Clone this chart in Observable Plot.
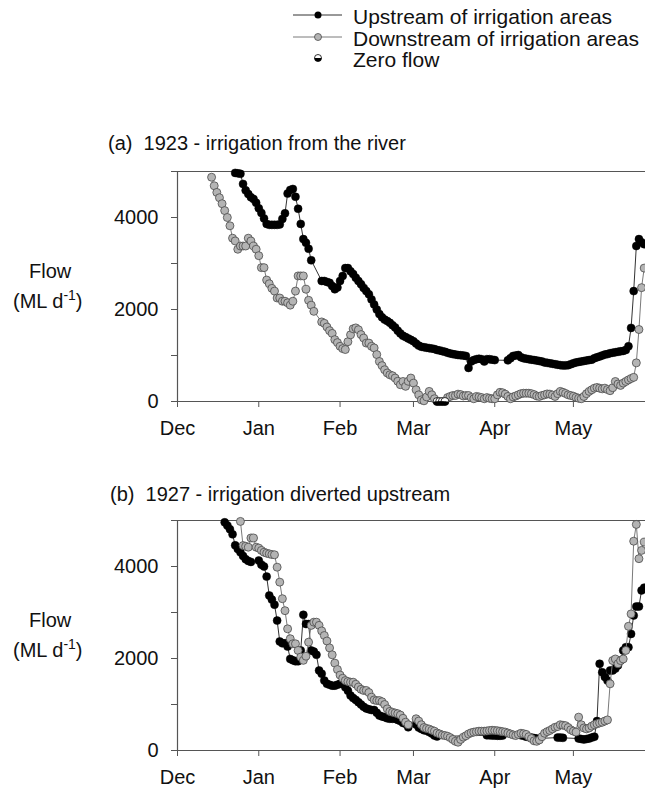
<!DOCTYPE html>
<html><head><meta charset="utf-8">
<script src="https://cdn.jsdelivr.net/npm/d3@7"></script>
<script src="https://cdn.jsdelivr.net/npm/@observablehq/plot@0.6"></script>
<style>
body{margin:0;background:#fff;font-family:"Liberation Sans",Arial,sans-serif;color:#111;}
#root{position:relative;width:645px;height:790px;overflow:hidden;background:#fff;}
.abs{position:absolute;white-space:pre;}
.t20{font-size:20px;line-height:24px;}
sup{font-size:14px;line-height:0;vertical-align:8px;}
</style></head><body><div id="root"></div>
<script>
// ---------- data ----------
const monthLabels = ["Dec","Jan","Feb","Mar","Apr","May"];
const yTicks = [0,1000,2000,3000,4000,5000];
const yTickLabels = ["0","","2000","","4000",""];
const legendLabels = ["Upstream of irrigation areas","Downstream of irrigation areas","Zero flow"];
const panelTitles = ["(a)  1923 - irrigation from the river","(b)  1927 - irrigation diverted upstream"];

// (a) 1923 — daily flow (ML/d), null = no record
const upA_start = "1922-12-23";
const upA = [4970,4960,4950,4730,4590,4510,4440,4400,4320,4200,
 4100,3980,3860,3840,3840,3840,3840,3850,3970,4090,
 4520,4600,4620,4450,4190,3860,3530,3450,3320,3070,
 null,null,null,2620,2620,2600,2580,2510,2440,2480,
 2620,2730,2900,2900,2830,2770,2690,2620,2550,2470,
 2400,2330,2220,2110,2000,1900,1830,1780,1750,1710,
 1660,1610,1540,1480,1430,1400,1370,1340,1310,1260,
 1215,1190,1180,1170,1160,1150,1140,1120,1110,1095,
 1080,1060,1045,1030,1020,1010,1005,1000,990,730,
 870,900,920,930,920,870,920,920,910,900,
 null,null,null,null,895,940,990,1000,1010,960,
 940,930,920,910,900,890,880,870,850,840,
 830,820,810,800,790,785,785,790,810,830,
 850,860,870,880,890,900,910,940,960,980,
 1000,1020,1030,1050,1060,1070,1080,1090,1100,1120,
 1200,1600,2400,3380,3530,3460,3420];
const downA_start = "1922-12-14";
const downA = [4875,4690,4545,4430,4300,4150,4000,3820,3550,3490,
 3310,3380,3380,3380,3550,3490,3380,3310,3170,2910,
 2910,2640,2560,2460,2400,2250,2250,2180,2180,2145,
 2095,2180,2400,2730,2730,2730,2440,2200,2095,1960,
 null,null,1730,1700,1620,1540,1480,1345,1280,1200,
 1150,1130,1300,1450,1580,1600,1560,1455,1380,1270,
 1270,1200,1165,1020,870,780,690,620,580,560,
 510,440,365,435,330,440,510,400,255,145,
 35,15,100,220,145,60,0,0,0,0,
 85,110,130,130,160,150,120,130,130,85,
 60,110,100,85,60,85,70,60,60,145,
 200,190,160,110,60,100,120,145,170,180,
 180,180,170,150,120,110,130,145,165,160,
 140,110,170,220,200,175,145,130,115,90,
 70,60,110,170,220,255,290,305,290,275,
 290,260,235,300,435,380,350,400,435,470,
 500,525,840,1565,2475,2900];

// (b) 1927
const upB_start = "1926-12-19";
const upB = [4960,4890,4810,4700,4460,4380,4310,4230,4160,4120,
 4100,null,null,4130,4040,4000,3780,3370,3280,3170,
 2825,2370,2330,2330,2260,1990,1960,1940,1940,2175,
 2950,2750,2750,2175,2150,2080,1740,1670,1520,1450,
 1430,1410,1410,1430,1450,1450,1375,1300,1195,1140,
 1100,1050,1000,950,915,895,880,880,820,760,
 740,725,700,690,690,690,665,640,600,580,
 505,null,null,565,500,470,440,430,400,370,
 325,305,null,null,null,null,null,null,null,null,
 null,null,null,null,null,null,null,null,null,null,
 330,330,325,325,320,320,325,null,null,null,
 null,null,null,330,320,300,290,280,270,260,
 null,null,null,null,null,null,null,280,280,275,
 null,null,null,null,null,260,250,240,250,260,
 280,300,640,1885,1700,1600,1520,1740,1740,1780,
 1850,1955,2175,2245,2245,2535,2935,3130,3130,3480,3540];
const downB_start = "1926-12-25";
const downB = [4980,4455,4440,4420,4620,4620,4420,4400,4350,4310,
 4290,4275,4260,4255,3985,3660,3300,3040,2645,2430,
 2320,2320,2175,2030,1960,2050,2355,2720,2790,2790,
 2720,2600,2500,2380,2230,2080,1900,1760,1640,1570,
 1520,1500,1485,1485,1440,1380,1330,1305,1305,1260,
 1160,1100,1085,1085,1060,1000,905,850,830,815,
 800,770,700,615,560,null,null,690,640,560,
 500,480,465,440,420,380,360,335,325,310,
 280,240,200,180,240,290,320,360,385,400,
 410,420,420,420,425,435,440,435,430,420,
 410,400,380,360,340,325,350,375,365,350,
 300,260,210,200,230,300,375,410,435,470,
 505,520,560,550,540,500,450,420,400,725,
 560,490,470,490,530,560,580,600,615,640,
 665,1450,1955,1990,1885,1955,1990,2175,2700,2970,
 4550,4915,4170,4350,4530];

// ---------- styles ----------
const FONT = "Liberation Sans, Arial, Helvetica, sans-serif";
const AX = "#555";
const R = 4;
const upLine = "#333", downLine = "#7a7a7a", downFill = "#b4b4b4", downStroke = "#4a4a4a";
const halfLower = {draw(ctx, size){const r=Math.sqrt(size/Math.PI); ctx.moveTo(r,0); ctx.arc(0,0,r,0,Math.PI); ctx.closePath();}};

const root = document.getElementById("root");
function place(el, left, top){ el.style.position="absolute"; el.style.left=left+"px"; el.style.top=top+"px"; root.appendChild(el); return el; }

// ---------- legend ----------
const lg = d3.create("svg").attr("width",645).attr("height",80).attr("font-family",FONT);
const ly = [15,37,58];
lg.append("line").attr("x1",293).attr("x2",342).attr("y1",ly[0]).attr("y2",ly[0]).attr("stroke",upLine);
lg.append("circle").attr("cx",318).attr("cy",ly[0]).attr("r",3.5).attr("fill","#000");
lg.append("line").attr("x1",293).attr("x2",342).attr("y1",ly[1]).attr("y2",ly[1]).attr("stroke",downLine);
lg.append("circle").attr("cx",318).attr("cy",ly[1]).attr("r",3.5).attr("fill",downFill).attr("stroke",downStroke).attr("stroke-width",0.8);
lg.append("circle").attr("cx",318).attr("cy",ly[2]).attr("r",3.5).attr("fill","#fff").attr("stroke","#000").attr("stroke-width",0.8);
lg.append("path").attr("d","M321.5,"+ly[2]+" A3.5,3.5 0 0 1 314.5,"+ly[2]+" Z").attr("fill","#000");
legendLabels.forEach((t,i)=>lg.append("text").attr("x",353).attr("y",ly[i]+2).attr("dy","0.35em").attr("font-size",21).attr("fill","#111").text(t));
place(lg.node(),0,0);

// ---------- panels ----------
function rows(start, vals){ const s=new Date(start+"T00:00:00Z"); return vals.map((v,i)=>({date:d3.utcDay.offset(s,i), v})); }

function panel(y0, upStart, up, downStart, down){
  const x0 = new Date(Date.UTC(y0,11,1));
  const x1 = new Date(Date.UTC(y0+1,4,28,12));
  const mTicks = d3.utcMonth.range(x0, x1);
  const U = rows(upStart, up).filter(d=>d.v!=null);
  const D = rows(downStart, down).filter(d=>d.v!=null);
  return Plot.plot({
    width:645, height:285, marginLeft:177, marginRight:0, marginTop:10, marginBottom:45,
    style:{fontFamily:FONT, fontSize:"20px", background:"#fff", overflow:"visible"},
    x:{type:"utc", domain:[x0,x1]},
    y:{domain:[0,5000]},
    marks:[
      Plot.ruleY([5000],{stroke:AX, strokeWidth:1.2}),
      Plot.ruleY([0],{stroke:AX, strokeWidth:1.2}),
      Plot.ruleX([x0],{stroke:AX, strokeWidth:1.2}),
      Plot.axisY({ticks:yTicks, tickFormat:d=>yTickLabels[yTicks.indexOf(d)], tickSize:6, tickPadding:13, stroke:AX, fill:"#111", label:null, fontSize:20}),
      Plot.axisX({ticks:mTicks, tickFormat:d=>monthLabels[mTicks.findIndex(t=>+t===+d)], tickSize:6, tickPadding:13, stroke:AX, fill:"#111", label:null, fontSize:20}),
      Plot.line(U,{x:"date", y:"v", stroke:upLine, strokeWidth:1}),
      Plot.dot(U.filter(d=>d.v>0),{x:"date", y:"v", r:R, fill:"#000", stroke:"#000", strokeWidth:0.5}),
      Plot.line(D,{x:"date", y:"v", stroke:downLine, strokeWidth:1}),
      Plot.dot(D.filter(d=>d.v>0),{x:"date", y:"v", r:R, fill:downFill, stroke:downStroke, strokeWidth:0.8}),
      Plot.dot(D.filter(d=>d.v===0),{x:"date", y:"v", r:R, fill:"#fff", stroke:"#000", strokeWidth:0.8}),
      Plot.dot(D.filter(d=>d.v===0),{x:"date", y:"v", r:R, symbol:halfLower, fill:"#000", stroke:"none"})
    ]
  });
}

const pa = panel(1922, upA_start, upA, downA_start, downA);
place(pa, 0, 161);
const pb = panel(1926, upB_start, upB, downB_start, downB);
place(pb, 0, 510);

// ---------- titles & y labels ----------
function txt(html, left, top){ const d=document.createElement("div"); d.className="abs t20"; d.innerHTML=html; return place(d,left,top); }
txt(panelTitles[0],108,131);
txt(panelTitles[1],110,482);
[0,349].forEach(off=>{
  txt("Flow",29,259+off);
  txt("(ML d<sup>-1</sup>)",13,289+off);
});
</script></body></html>
